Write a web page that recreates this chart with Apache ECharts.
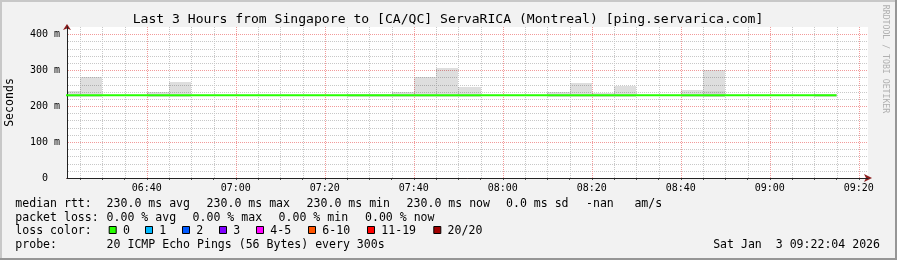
<!DOCTYPE html>
<html><head><meta charset="utf-8">
<script src="https://cdn.jsdelivr.net/npm/echarts@6/dist/echarts.min.js"></script>
<style>html,body{margin:0;padding:0;background:#f2f2f2}#c{width:897px;height:260px}</style>
</head><body><div id="c"></div>
<script>
const chartTitle = 'Last 3 Hours from Singapore to [CA/QC] ServaRICA (Montreal) [ping.servarica.com]';
const rangeStart = '06:22:04';
const rangeEnd = '09:22:04';
const xTickLabels = ['06:40','07:00','07:20','07:40','08:00','08:20','08:40','09:00','09:20'];
const yMax = 420;
const yTickValues = [0, 100, 200, 300, 400];
const yTickLabels = ['0', '100 m', '200 m', '300 m', '400 m'];
const SLOT = 5; // minutes per step

// median rtt per 5-minute step (start time of step)
const medianSlots = ['06:20','06:25','06:30','06:35','06:40','06:45','06:50','06:55','07:00','07:05','07:10','07:15','07:20','07:25','07:30','07:35','07:40','07:45','07:50','07:55','08:00','08:05','08:10','08:15','08:20','08:25','08:30','08:35','08:40','08:45','08:50','08:55','09:00','09:05','09:10'];
const medianValues = [230,230,230,230,230,230,230,230,230,230,230,230,230,230,230,230,230,230,230,230,230,230,230,230,230,230,230,230,230,230,230,230,230,230,230];

// visible smoke (spread of the 20 pings) per step
const smokeSlots  = ['06:20','06:25','06:40','06:45','07:25','07:30','07:35','07:40','07:45','07:50','08:10','08:15','08:20','08:25','08:40','08:45','09:10'];
const smokeBottom = [226,226,226,226,226,226,226,226,226,226,226,226,226,226,226,226,226];
const smokeTop    = [242,280,240,267,234,234,240,281,305,254,240,264,237,256,244,300,234];
const smokeInnerTop = [null,null,null,null,null,null,null,null,null,null,null,null,null,null,null,242,null];

const lossLabels = ['0','1','2','3','4-5','6-10','11-19','20/20'];
const lossColors = ['#26ff00','#00b8ff','#0059ff','#7e00ff','#ff00ff','#ff5500','#ff0000','#a10000'];

const statLine1 = ['median rtt:', '230.0 ms avg', '230.0 ms max', '230.0 ms min', '230.0 ms now', '0.0 ms sd', '-nan', 'am/s'];
const statLine2 = ['packet loss:', '0.00 % avg', '0.00 % max', '0.00 % min', '0.00 % now'];
const probeLabel = ['probe:', '20 ICMP Echo Pings (56 Bytes) every 300s'];
const stamp = 'Sat Jan  3 09:22:04 2026';

function toMin(s) { const p = s.split(':').map(Number); return p[0]*60 + p[1] + (p[2]||0)/60; }
function pad(n) { return (n < 10 ? '0' : '') + n; }
const xMin = toMin(rangeStart), xMax = toMin(rangeEnd);
const majorX = xTickLabels.map(toMin);
const allX = [];
for (let t = Math.ceil(xMin / SLOT) * SLOT; t <= xMax; t += SLOT) allX.push(t);
const minorX = allX.filter(t => !majorX.some(m => Math.abs(m - t) < 1e-6));
const minorY = [];
for (let v = 20; v < yMax; v += 20) if (yTickValues.indexOf(v) < 0) minorY.push(v);

const MONO = '"DejaVu Sans Mono", monospace';

const chart = echarts.init(document.getElementById('c'), null, {renderer: 'canvas'});

const smokeData = smokeSlots.map((s, i) => [toMin(s), toMin(s) + SLOT, smokeBottom[i], smokeTop[i]]);
const innerData = smokeSlots.map((s, i) => smokeInnerTop[i] == null ? null : [toMin(s), toMin(s) + SLOT, smokeBottom[i], smokeInnerTop[i]]).filter(d => d);
const medianData = medianSlots.map((s, i) => [toMin(s), medianValues[i]]);
medianData.push([toMin(medianSlots[medianSlots.length - 1]) + SLOT, medianValues[medianValues.length - 1]]);

function rectRender(fill) {
  return function (params, api) {
    const p0 = api.coord([api.value(0), api.value(3)]);
    const p1 = api.coord([api.value(1), api.value(2)]);
    const cs = params.coordSys;
    const x0 = Math.round(Math.max(p0[0], cs.x));
    const x1 = Math.round(Math.min(p1[0], cs.x + cs.width));
    const y0 = Math.round(p0[1]), y1 = Math.round(p1[1]);
    return {type: 'rect', shape: {x: x0, y: y0, width: x1 - x0, height: y1 - y0}, style: {fill: fill}};
  };
}
// dotted grid line drawn as a row of 1px dots
function gridRender(vertical, color) {
  return function (params, api) {
    const cs = params.coordSys;
    const v = api.value(0);
    const children = [];
    if (vertical) {
      const x = Math.round(api.coord([v, 0])[0]);
      for (let y = Math.round(cs.y); y < cs.y + cs.height; y += 2)
        children.push({type: 'rect', shape: {x: x, y: y, width: 1, height: 1}, style: {fill: color}});
    } else {
      const y = Math.round(api.coord([xMin, v])[1]);
      for (let x = Math.round(cs.x) + 1; x < cs.x + cs.width; x += 2)
        children.push({type: 'rect', shape: {x: x, y: y, width: 1, height: 1}, style: {fill: color}});
    }
    return {type: 'group', children: children};
  };
}
function gridSeries(values, vertical, color, z) {
  return {type: 'custom', silent: true, z: z, xAxisIndex: 1, yAxisIndex: 1, renderItem: gridRender(vertical, color),
    encode: vertical ? {x: 0} : {y: 0}, data: values.map(v => [v])};
}

const graphics = [];
graphics.push({type: 'rect', shape: {x: 0, y: 0, width: 897, height: 2}, style: {fill: '#c8c8c8'}, silent: true});
graphics.push({type: 'rect', shape: {x: 0, y: 0, width: 2, height: 260}, style: {fill: '#c8c8c8'}, silent: true});
graphics.push({type: 'rect', shape: {x: 0, y: 258, width: 897, height: 2}, style: {fill: '#969696'}, silent: true});
graphics.push({type: 'rect', shape: {x: 895, y: 0, width: 2, height: 260}, style: {fill: '#969696'}, silent: true});

function txt(text, x, y, opts) {
  opts = opts || {};
  graphics.push({
    type: 'text', x: x, y: y, rotation: opts.rotation || 0, silent: true,
    style: {text: text, x: 0, y: 0, fill: opts.fill || '#000', fontFamily: MONO, fontSize: opts.size || 11.55,
      align: opts.align || 'left', verticalAlign: 'middle'}
  });
}
txt(chartTitle, 448, 20, {size: 13.1, align: 'center'});
txt('Seconds', 10, 102.5, {rotation: Math.PI / 2, align: 'center'});
txt('RRDTOOL / TOBI OETIKER', 885, 59, {rotation: -Math.PI / 2, align: 'center', size: 8.2, fill: '#b0b0b0'});

const L1 = 204, L2 = 218, L3 = 231, L4 = 245;
const line1X = [15.3, 106.6, 206.6, 306.6, 406.6, 506, 586, 634.4];
statLine1.forEach((t, i) => txt(t, line1X[i], L1));
const line2X = [15.3, 106.6, 192.6, 278.6, 365];
statLine2.forEach((t, i) => txt(t, line2X[i], L2));
txt('loss color:', 15.3, L3);
const boxX = [108.7, 145, 182, 219, 256, 308, 367, 433.3];
lossLabels.forEach((t, i) => {
  graphics.push({type: 'rect', silent: true, shape: {x: boxX[i] + 0.5, y: 226.5, width: 7, height: 7},
    style: {fill: lossColors[i], stroke: '#000', lineWidth: 1}});
  txt(t, boxX[i] + 14.3, L3);
});
txt(probeLabel[0], 15.3, L4);
txt(probeLabel[1], 106.6, L4);
txt(stamp, 880, L4, {align: 'right'});

const MINOR_C = '#c8c8c8', MAJOR_C = '#f29a9a';

chart.setOption({
  backgroundColor: '#f2f2f2',
  animation: false,
  grid: {left: 67, top: 27, width: 801, height: 151, show: true, backgroundColor: '#ffffff', borderWidth: 0},
  xAxis: [
    {type: 'value', min: xMin, max: xMax, position: 'bottom', z: 0,
      axisLine: {show: true, onZero: false, lineStyle: {color: '#8a1c1c'}, symbol: ['none', 'arrow'], symbolSize: [6, 8], symbolOffset: [0, 4]},
      axisTick: {show: true, customValues: allX, length: 2, lineStyle: {color: '#555'}},
      axisLabel: {show: false}, splitLine: {show: false}, minorSplitLine: {show: false}},
    {type: 'value', min: xMin, max: xMax, position: 'bottom', z: 1,
      axisLine: {show: true, onZero: false, lineStyle: {color: '#222'}},
      axisTick: {show: false, customValues: majorX},
      axisLabel: {show: true, customValues: majorX, margin: 5.5, color: '#000', fontFamily: MONO, fontSize: 10,
        formatter: v => { const i = majorX.findIndex(m => Math.abs(m - v) < 1e-6); return i >= 0 ? xTickLabels[i] : pad(Math.floor(v/60)) + ':' + pad(Math.round(v%60)); }},
      splitLine: {show: false}, minorSplitLine: {show: false}}
  ],
  yAxis: [
    {type: 'value', min: 0, max: yMax, position: 'left', z: 0,
      axisLine: {show: true, onZero: false, lineStyle: {color: '#8a1c1c'}, symbol: ['none', 'arrow'], symbolSize: [6, 6], symbolOffset: [0, 3]},
      axisTick: {show: false}, axisLabel: {show: false}, splitLine: {show: false}},
    {type: 'value', min: 0, max: yMax, position: 'left', z: 1,
      axisLine: {show: true, onZero: false, lineStyle: {color: '#222'}},
      axisTick: {show: false, customValues: yTickValues},
      axisLabel: {show: true, customValues: yTickValues, align: 'center', margin: 22, color: '#000', fontFamily: MONO, fontSize: 10,
        formatter: v => { const i = yTickValues.indexOf(v); return i >= 0 ? yTickLabels[i] : String(v); }},
      splitLine: {show: false}}
  ],
  series: [
    gridSeries(minorY, false, MINOR_C, 1),
    gridSeries(minorX, true, MINOR_C, 1),
    gridSeries(yTickValues.filter(v => v > 0), false, MAJOR_C, 1),
    gridSeries(majorX, true, MAJOR_C, 1),
    {type: 'custom', name: 'smoke', xAxisIndex: 1, yAxisIndex: 1, z: 2, clip: true,
      encode: {x: [0, 1], y: [2, 3]}, renderItem: rectRender('rgba(0,0,0,0.13)'), data: smokeData},
    {type: 'custom', name: 'smoke-inner', xAxisIndex: 1, yAxisIndex: 1, z: 2, clip: true,
      encode: {x: [0, 1], y: [2, 3]}, renderItem: rectRender('rgba(0,0,0,0.05)'), data: innerData},
    {type: 'line', name: 'median rtt', xAxisIndex: 1, yAxisIndex: 1, z: 5, step: 'end', symbol: 'none', clip: true,
      lineStyle: {color: '#26ff00', width: 2}, data: medianData}
  ],
  graphic: graphics
});
</script>
</body></html>
